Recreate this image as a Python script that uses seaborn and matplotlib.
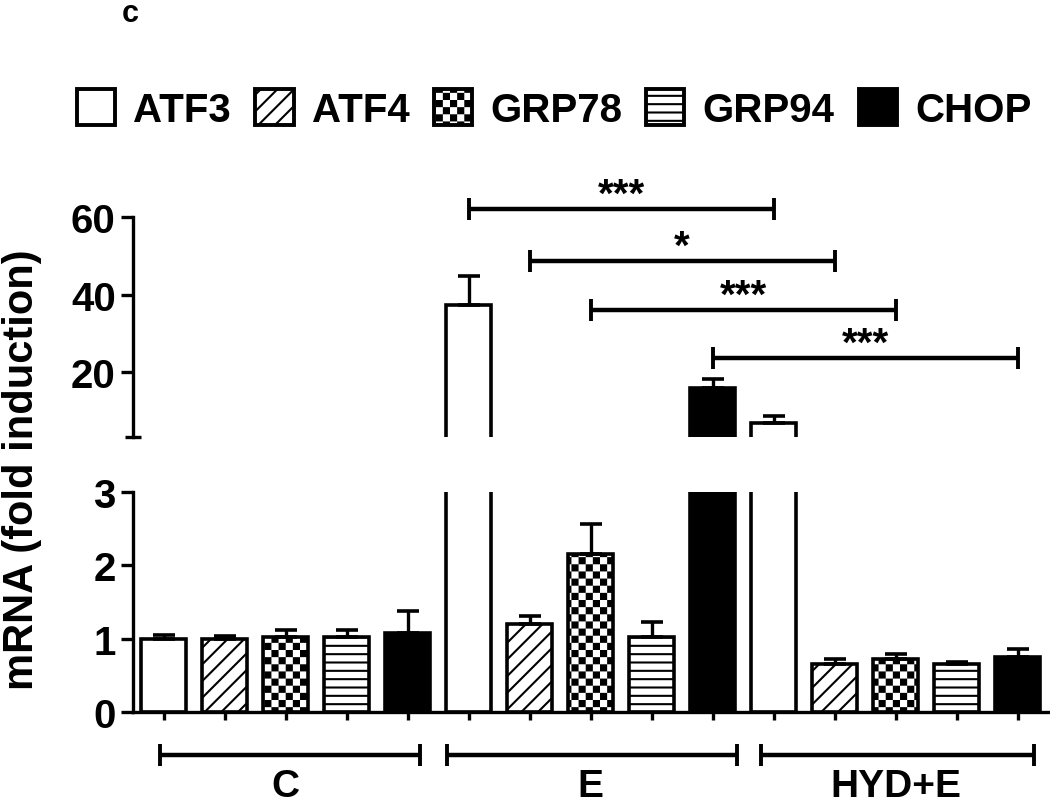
import warnings
import numpy as np
import pandas as pd
import matplotlib
matplotlib.use('Agg')
import matplotlib.pyplot as plt
import matplotlib.hatch as mhatch
from matplotlib.patches import Patch
from matplotlib.path import Path
import seaborn as sns

warnings.filterwarnings('ignore')

groups = ['C', 'E', 'HYD+E']
genes = ['ATF3', 'ATF4', 'GRP78', 'GRP94', 'CHOP']

# mean fold induction, gene order as above
mean_c = [1.00, 1.00, 1.02, 1.02, 1.08]
mean_e = [37.2, 1.20, 2.16, 1.02, 15.8]
mean_hyd = [6.8, 0.65, 0.72, 0.65, 0.75]
# upper error (SEM)
sem_c = [0.05, 0.04, 0.10, 0.10, 0.30]
sem_e = [7.6, 0.11, 0.40, 0.21, 2.4]
sem_hyd = [1.8, 0.07, 0.07, 0.03, 0.11]

# significance: E vs HYD+E for these genes
sig_genes = ['ATF3', 'ATF4', 'GRP78', 'CHOP']
sig_labels = ['***', '*', '***', '***']

df = pd.DataFrame({
    'group': np.repeat(groups, len(genes)),
    'gene': genes * len(groups),
    'mrna': mean_c + mean_e + mean_hyd,
    'err': sem_c + sem_e + sem_hyd,
})


# checkerboard hatch, triggered by 'c' in the hatch string
class CheckerHatch(mhatch.HatchPatternBase):
    def __init__(self, hatch, density):
        self.n = 14 if 'c' in hatch else 0
        self.num_vertices = (self.n * self.n // 2) * 5

    def set_vertices_and_codes(self, vertices, codes):
        step = 1.0 / self.n
        pad = 0.0104
        k = 0
        for i in range(self.n):
            for j in range(self.n):
                if (i + j) % 2:
                    continue
                x0, y0 = i * step + pad, j * step + pad
                x1, y1 = x0 + step - 2 * pad, y0 + step - 2 * pad
                vertices[k:k + 5] = [(x0, y0), (x1, y0), (x1, y1), (x0, y1), (x0, y0)]
                codes[k:k + 5] = [Path.MOVETO, Path.LINETO, Path.LINETO,
                                  Path.LINETO, Path.CLOSEPOLY]
                k += 5


mhatch._hatch_types.append(CheckerHatch)

sns.set_style('ticks')
plt.rcParams['font.family'] = ['Liberation Sans', 'DejaVu Sans']
plt.rcParams['font.weight'] = 'bold'
plt.rcParams['hatch.linewidth'] = 1.5
plt.rcParams['hatch.color'] = 'black'
for k in ['text.color', 'axes.labelcolor', 'axes.edgecolor', 'xtick.color', 'ytick.color']:
    plt.rcParams[k] = 'black'

colors = {'ATF3': 'white', 'ATF4': 'white', 'GRP78': 'white', 'GRP94': 'white', 'CHOP': 'black'}
hatches = {'ATF3': None, 'ATF4': '//', 'GRP78': 'c', 'GRP94': '--', 'CHOP': None}

fig = plt.figure(figsize=(10.5, 8.03), dpi=100)
ax_top = fig.add_axes([133 / 1050, 1 - 438 / 803, 915 / 1050, 220 / 803])
ax_bot = fig.add_axes([133 / 1050, 1 - 713 / 803, 915 / 1050, 220 / 803])


def draw(ax):
    sns.barplot(data=df, x='group', y='mrna', hue='gene', order=groups, hue_order=genes,
                palette=colors, saturation=1, width=1.0, gap=0.26, errorbar=None,
                edgecolor='black', linewidth=2.6, legend=False, ax=ax)
    centers = {}
    for gene, cont in zip(genes, ax.containers):
        sub = df[df.gene == gene].set_index('group').loc[groups]
        xs = []
        for bar in cont:
            bar.set_hatch(hatches[gene])
            xs.append(bar.get_x() + bar.get_width() / 2)
        ax.errorbar(xs, sub['mrna'].values, yerr=[np.zeros(len(xs)), sub['err'].values],
                    fmt='none', ecolor='black', elinewidth=2.4, capsize=8, capthick=2.6,
                    zorder=1)
        for g, x in zip(groups, xs):
            centers[(g, gene)] = x
    ax.set_xlim(-0.5, 2.5)
    ax.set_xlabel('')
    ax.set_ylabel('')
    for s in ['top', 'right']:
        ax.spines[s].set_visible(False)
    ax.spines['left'].set_linewidth(2.4)
    ax.spines['bottom'].set_linewidth(2.4)
    ax.tick_params(axis='y', length=8.5, width=2.4, pad=4, labelsize=29)
    return centers


centers = draw(ax_top)
draw(ax_bot)

# lower panel
ax_bot.set_ylim(0, 3)
ax_bot.set_yticks([0, 1, 2, 3])
xs_all = sorted(centers.values())
ax_bot.set_xticks(xs_all)
ax_bot.set_xticklabels([])
ax_bot.tick_params(axis='x', length=6, width=2.4)

# upper panel
ax_top.set_ylim(3.3, 60)
ax_top.set_yticks([20, 40, 60])
ax_top.set_yticks([3.3], minor=True)
ax_top.tick_params(axis='y', which='minor', direction='inout', length=11, width=2.4)
ax_top.spines['bottom'].set_visible(False)
ax_top.set_xticks([])

# significance brackets
sig_heights = [62.0, 48.6, 36.1, 23.6]
for gene, lab, y in zip(sig_genes, sig_labels, sig_heights):
    x1, x2 = centers[('E', gene)], centers[('HYD+E', gene)]
    ax_top.plot([x1, x2], [y, y], color='black', lw=3.2, marker='|', ms=16, mew=2.8,
                clip_on=False, solid_capstyle='butt')
    ax_top.text((x1 + x2) / 2, y + 0.8, lab, ha='center', va='baseline', fontsize=29,
                fontweight='bold', clip_on=False)

# group brackets under the x axis
bracket_spans = [(-0.41, 0.44), (-0.47, 0.48), (-0.44, 0.455)]
trans = ax_bot.get_xaxis_transform()
for i, (g, (lo, hi)) in enumerate(zip(groups, bracket_spans)):
    ax_bot.plot([i + lo, i + hi], [-0.195, -0.195], transform=trans, color='black',
                lw=3.2, marker='|', ms=16, mew=2.8, clip_on=False, solid_capstyle='butt')
    ax_bot.text(i, -0.38, g, transform=trans, ha='center', va='baseline', fontsize=28)

# legend
handles = [Patch(facecolor=colors[g], edgecolor='black', hatch=hatches[g],
                 linewidth=2.8, joinstyle='round') for g in genes]
fig.legend(handles, genes, loc='center left', bbox_to_anchor=(77 / 1050, 1 - 110 / 803),
           ncol=5, frameon=False, handlelength=0.95, handleheight=1.0,
           handletextpad=0.45, columnspacing=0.6, borderpad=0, borderaxespad=0,
           prop={'weight': 'bold', 'size': 29})

fig.text(22 / 1050, 1 - 470 / 803, 'mRNA (fold induction)', rotation=90, ha='center',
         va='center', fontsize=30, fontweight='bold')
fig.text(130 / 1050, 1 - 14 / 803, 'c', ha='center', va='center', fontsize=22,
         fontweight='bold')

fig.savefig('out.png', dpi=100)
